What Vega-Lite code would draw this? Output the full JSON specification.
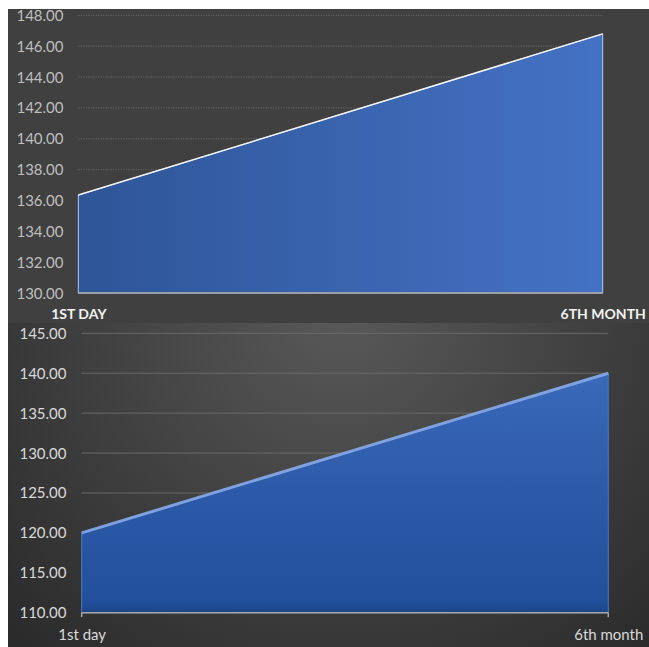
{
  "$schema": "https://vega.github.io/schema/vega-lite/v6.json",
  "background": "white",
  "padding": {"left": 8, "top": 8, "right": 0, "bottom": 0},
  "spacing": 0,
  "config": {"font": "Lato", "view": {"stroke": null}, "concat": {"spacing": 0}, "axis": {"labelOverlap": false, "labelFlush": false, "labelBound": false}},
  "vconcat": [
    {
      "width": 641,
      "height": 314,
      "view": {"fill": "#404040", "stroke": null},
      "data": {"values": [{"period": "1ST DAY", "value": 136.35}, {"period": "6TH MONTH", "value": 146.8}]},
      "encoding": {
        "x": {
          "field": "period", "type": "ordinal", "sort": null,
          "scale": {"type": "point", "padding": 0.1112, "align": 0.603},
          "axis": {"title": null, "domain": false, "ticks": false, "tickSize": 0, "grid": false, "labelPadding": -8.5, "labelBaseline": "middle", "labelAngle": 0, "labelFontWeight": "bold", "labelFontSize": 14, "labelColor": "#f2f2f2"}
        }
      },
      "layer": [
        {
          "data": {"values": [{"v": 132}, {"v": 134}, {"v": 136}, {"v": 138}, {"v": 140}, {"v": 142}, {"v": 144}, {"v": 146}, {"v": 148}]},
          "mark": {"type": "rule", "color": "#707070", "strokeDash": [1, 1.5], "strokeWidth": 1},
          "encoding": {
            "y": {
              "field": "v", "type": "quantitative",
              "scale": {"domain": [128.06, 148.41], "zero": false, "nice": false},
              "axis": {"title": null, "values": [130, 132, 134, 136, 138, 140, 142, 144, 146, 148], "tickCount": 30, "format": ".2f", "grid": false, "domain": false, "ticks": false, "tickSize": 0, "labelPadding": -55, "labelColor": "#bfbfbf", "labelFontSize": 15, "labelOverlap": false}
            },
            "x": {"datum": "1ST DAY"},
            "x2": {"datum": "6TH MONTH"}
          }
        },
        {
          "mark": {"type": "area", "fill": {"gradient": "linear", "x1": 0, "y1": 0, "x2": 1, "y2": 0, "stops": [{"offset": 0, "color": "#2e5597"}, {"offset": 1, "color": "#4472c4"}]}, "stroke": "#b4c7e7", "strokeWidth": 1},
          "encoding": {
            "y": {"field": "value", "type": "quantitative", "scale": {"domain": [128.06, 148.41], "zero": false, "nice": false}},
            "y2": {"datum": 130}
          }
        },
        {
          "mark": {"type": "line", "color": "#f2f2f2", "strokeWidth": 1.5},
          "encoding": {"y": {"field": "value", "type": "quantitative", "scale": {"domain": [128.06, 148.41], "zero": false, "nice": false}}}
        },
        {
          "data": {"values": [{}]},
          "mark": {"type": "rule", "color": "#a6a6a6", "strokeWidth": 1.5},
          "encoding": {"y": {"datum": 130}, "x": {"datum": "1ST DAY"}, "x2": {"datum": "6TH MONTH"}}
        }
      ]
    },
    {
      "width": 641,
      "height": 325,
      "view": {"fill": {"gradient": "radial", "x1": 0.52, "y1": 0.22, "r1": 0, "x2": 0.52, "y2": 0.22, "r2": 0.8, "stops": [{"offset": 0, "color": "#595959"}, {"offset": 1, "color": "#262626"}]}, "stroke": null},
      "data": {"values": [{"period": "1st day", "value": 120}, {"period": "6th month", "value": 140}]},
      "encoding": {
        "x": {
          "field": "period", "type": "ordinal", "sort": null,
          "scale": {"type": "point", "padding": 0.1086, "align": 0.644},
          "axis": {"title": null, "domain": false, "ticks": false, "tickSize": 0, "grid": false, "labelPadding": -14, "labelBaseline": "middle", "labelAngle": 0, "labelFontSize": 15, "labelColor": "#d9d9d9"}
        }
      },
      "layer": [
        {
          "data": {"values": [{"v": 115}, {"v": 120}, {"v": 125}, {"v": 130}, {"v": 135}, {"v": 140}, {"v": 145}]},
          "mark": {"type": "rule", "color": "#6a6a6a", "strokeWidth": 1},
          "encoding": {
            "y": {
              "field": "v", "type": "quantitative",
              "scale": {"domain": [105.58, 146.29], "zero": false, "nice": false},
              "axis": {"title": null, "values": [110, 115, 120, 125, 130, 135, 140, 145], "tickCount": 30, "format": ".2f", "grid": false, "domain": false, "ticks": false, "tickSize": 0, "labelPadding": -58, "labelColor": "#d9d9d9", "labelFontSize": 15, "labelOverlap": false}
            },
            "x": {"datum": "1st day"},
            "x2": {"datum": "6th month"}
          }
        },
        {
          "mark": {"type": "area", "fill": {"gradient": "linear", "x1": 0, "y1": 0, "x2": 0, "y2": 1, "stops": [{"offset": 0, "color": "#3a69ba"}, {"offset": 0.5, "color": "#2d5aa8"}, {"offset": 0.95, "color": "#22509c"}, {"offset": 1, "color": "#1d4585"}]}, "stroke": "#4a78c8", "strokeWidth": 1},
          "encoding": {
            "y": {"field": "value", "type": "quantitative", "scale": {"domain": [105.58, 146.29], "zero": false, "nice": false}},
            "y2": {"datum": 110}
          }
        },
        {
          "mark": {"type": "line", "color": "#86a8e4", "strokeWidth": 3, "opacity": 0.9},
          "encoding": {"y": {"field": "value", "type": "quantitative", "scale": {"domain": [105.58, 146.29], "zero": false, "nice": false}}}
        },
        {
          "data": {"values": [{}]},
          "mark": {"type": "rule", "color": "#a6a6a6", "strokeWidth": 1.5},
          "encoding": {"y": {"datum": 110}, "x": {"datum": "1st day"}, "x2": {"datum": "6th month"}}
        },
        {
          "data": {"values": [{"period": "1st day"}, {"period": "6th month"}]},
          "mark": {"type": "rule", "color": "#a6a6a6", "strokeWidth": 1.5},
          "encoding": {"y": {"datum": 110}, "y2": {"datum": 109.45}}
        }
      ]
    }
  ]
}
